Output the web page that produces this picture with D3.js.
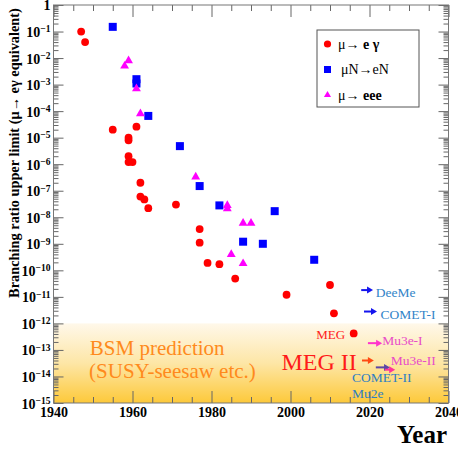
<!DOCTYPE html>
<html>
<head>
<meta charset="utf-8">
<script src="https://cdn.jsdelivr.net/npm/d3@7"></script>
<style>
  body { margin: 0; background: #fff; }
  text { font-family: "Liberation Serif", "DejaVu Serif", serif; }
</style>
</head>
<body>
<div id="chart"></div>
<script>
// mu -> e gamma limits
const megYears  = [1947, 1948, 1955, 1959, 1959, 1961, 1959, 1959, 1960, 1962, 1962, 1963, 1964, 1971, 1977, 1977, 1979, 1982, 1986, 1999, 2010, 2011, 2016];
const megLimits = [1e-1, 4e-2, 2e-5, 1e-5, 8e-6, 2.6e-5, 2e-6, 1.2e-6, 1.2e-6, 2e-7, 6e-8, 4.7e-8, 2.2e-8, 3e-8, 3.6e-9, 1.1e-9, 1.9e-10, 1.7e-10, 4.9e-11, 1.2e-11, 2.8e-11, 2.4e-12, 4.2e-13];

// mu N -> e N limits
const convYears  = [1955, 1961, 1961, 1964, 1972, 1977, 1982, 1988, 1993, 1996, 2006];
const convLimits = [1.5e-1, 1.6e-3, 1.1e-3, 6.6e-5, 4.8e-6, 1.5e-7, 2.8e-8, 1.2e-9, 1e-9, 1.7e-8, 2.5e-10];

// mu -> eee limits
const eeeYears  = [1958, 1959, 1961, 1962, 1976, 1984, 1984, 1985, 1988, 1990, 1988];
const eeeLimits = [5e-3, 8e-3, 7e-4, 8e-5, 3.3e-7, 2.8e-8, 2.1e-8, 4e-10, 6e-9, 6e-9, 1.8e-10];

// future experiments: arrow from/to year at an expected sensitivity
const arrowNames  = ['DeeMe', 'COMET-I', 'Mu3e-I', 'MEG II', 'COMET-II', 'Mu3e-II'];
const arrowFrom   = [2017.9, 2018.6, 2019.6, 2018.1, 2021.6, 2023.9];
const arrowTo     = [2020.9, 2021.9, 2023.2, 2021.1, 2025.2, 2026.5];
const arrowLimit  = [1.8e-11, 2.8e-12, 1.8e-13, 4e-14, 2.2e-14, 1.8e-14];
const arrowColors = ['#1414ee', '#1414ee', '#ff33cc', '#ff4a12', '#5b46a6', '#ff3399'];

const xTicks = [1940, 1960, 1980, 2000, 2020, 2040];

const W = 458, H = 453;
const margin = { top: 5, right: 9.5, bottom: 50, left: 53.5 };

const svg = d3.select('#chart').append('svg')
    .attr('width', W)
    .attr('height', H);

const x = d3.scaleLinear().domain([1940, 2040]).range([margin.left, W - margin.right]);
const y = d3.scaleLog().domain([1e-15, 1]).range([H - margin.bottom, margin.top]);

// BSM band gradient
const defs = svg.append('defs');
const grad = defs.append('linearGradient')
    .attr('id', 'band')
    .attr('x1', 0).attr('y1', 0).attr('x2', 0).attr('y2', 1);
grad.append('stop').attr('offset', '0%').attr('stop-color', '#fff8ea');
grad.append('stop').attr('offset', '50%').attr('stop-color', '#fde6a6');
grad.append('stop').attr('offset', '100%').attr('stop-color', '#fdc93a');

svg.append('rect')
    .attr('x', x(1940))
    .attr('y', y(1e-12))
    .attr('width', x(2040) - x(1940))
    .attr('height', y(1e-15) - y(1e-12))
    .attr('fill', 'url(#band)');

// tick values
const yMajor = d3.range(-15, 1).map(e => Math.pow(10, e));
const yMinor = [];
for (let e = -15; e < 0; e++) {
    for (let k = 2; k <= 9; k++) yMinor.push(k * Math.pow(10, e));
}
const xMinor = d3.range(1945, 2040, 5).filter(v => v % 20 !== 0);

const tickColor = '#666';
const xBottom = H - margin.bottom;
const xRight = W - margin.right;

function styleAxis(g) {
    g.select('.domain').remove();
    g.selectAll('line').attr('stroke', tickColor);
}

// x axis (bottom, labelled) and top
svg.append('g')
    .attr('transform', `translate(0,${xBottom})`)
    .call(d3.axisBottom(x).tickValues(xTicks).tickSizeInner(-12).tickSizeOuter(0).tickPadding(4).tickFormat(d3.format('d')))
    .call(styleAxis)
    .call(g => g.selectAll('text')
        .attr('fill', '#000')
        .style('font-size', '14px')
        .style('font-weight', 'bold'));
svg.append('g')
    .attr('transform', `translate(0,${xBottom})`)
    .call(d3.axisBottom(x).tickValues(xMinor).tickSizeInner(-6).tickSizeOuter(0).tickFormat(''))
    .call(styleAxis);
svg.append('g')
    .attr('transform', `translate(0,${margin.top})`)
    .call(d3.axisTop(x).tickValues(xTicks).tickSizeInner(-12).tickSizeOuter(0).tickFormat(''))
    .call(styleAxis);
svg.append('g')
    .attr('transform', `translate(0,${margin.top})`)
    .call(d3.axisTop(x).tickValues(xMinor).tickSizeInner(-6).tickSizeOuter(0).tickFormat(''))
    .call(styleAxis);

// y axis left (labelled) and right
const yLeft = svg.append('g')
    .attr('transform', `translate(${margin.left},0)`)
    .call(d3.axisLeft(y).tickValues(yMajor).tickSizeInner(-10).tickSizeOuter(0).tickPadding(3).tickFormat(d => Math.round(Math.log10(d))))
    .call(styleAxis);

yLeft.selectAll('text').each(function(d) {
    const t = d3.select(this);
    const e = Math.round(Math.log10(d));
    t.text(null)
        .attr('fill', '#000')
        .attr('dy', '0.36em')
        .style('font-size', '14px')
        .style('font-weight', 'bold');
    if (e === 0) {
        t.attr('dy', '0.34em').append('tspan').text('1');
    } else {
        t.append('tspan').text('10');
        t.append('tspan').attr('dy', '-0.5em').style('font-size', '9.5px').text('\u2212' + (-e));
    }
});

svg.append('g')
    .attr('transform', `translate(${margin.left},0)`)
    .call(d3.axisLeft(y).tickValues(yMinor).tickSizeInner(-5).tickSizeOuter(0).tickFormat(''))
    .call(styleAxis);
svg.append('g')
    .attr('transform', `translate(${xRight},0)`)
    .call(d3.axisRight(y).tickValues(yMajor).tickSizeInner(-10).tickSizeOuter(0).tickFormat(''))
    .call(styleAxis);
svg.append('g')
    .attr('transform', `translate(${xRight},0)`)
    .call(d3.axisRight(y).tickValues(yMinor).tickSizeInner(-5).tickSizeOuter(0).tickFormat(''))
    .call(styleAxis);

// frame
svg.append('rect')
    .attr('x', margin.left)
    .attr('y', margin.top)
    .attr('width', xRight - margin.left)
    .attr('height', xBottom - margin.top)
    .attr('fill', 'none')
    .attr('stroke', '#777')
    .attr('stroke-width', 1);

// axis titles
const yTitle = svg.append('text')
    .attr('transform', 'translate(19,153) rotate(-90)')
    .attr('text-anchor', 'middle')
    .style('font-size', '12.5px')
    .style('font-weight', 'bold')
    .text('Branching ratio upper limit (\u03bc\u2192 e\u03b3 equivalent)');
// stretch the title to the same length as in the original (~290px)
const titleLen = yTitle.node().getComputedTextLength();
yTitle.style('font-size', (12.5 * 290 / titleLen).toFixed(2) + 'px');

svg.append('text')
    .attr('x', 447)
    .attr('y', 443)
    .attr('text-anchor', 'end')
    .style('font-size', '25px')
    .style('font-weight', 'bold')
    .text('Year');

// BSM band text
const bsm = svg.append('text')
    .attr('fill', '#ff8a1c')
    .style('font-size', '21px');
bsm.append('tspan').attr('x', x(1949.2)).attr('y', y(10 ** -13.2)).text('BSM prediction');
bsm.append('tspan').attr('x', x(1949)).attr('y', y(10 ** -14.07)).text('(SUSY-seesaw etc.)');

// data points
const plot = svg.append('g');

plot.selectAll('.meg')
    .data(megYears.map((d, i) => [d, megLimits[i]]))
    .join('circle')
    .attr('class', 'meg')
    .attr('cx', d => x(d[0]))
    .attr('cy', d => y(d[1]))
    .attr('r', 3.9)
    .attr('fill', '#ff0000');

plot.selectAll('.conv')
    .data(convYears.map((d, i) => [d, convLimits[i]]))
    .join('rect')
    .attr('class', 'conv')
    .attr('x', d => x(d[0]) - 4)
    .attr('y', d => y(d[1]) - 4)
    .attr('width', 8)
    .attr('height', 8)
    .attr('fill', '#0000ff');

const tri = d3.symbol().type(d3.symbolTriangle).size(34);
plot.selectAll('.eee')
    .data(eeeYears.map((d, i) => [d, eeeLimits[i]]))
    .join('path')
    .attr('class', 'eee')
    .attr('transform', d => `translate(${x(d[0])},${y(d[1])})`)
    .attr('d', tri)
    .attr('fill', '#ff00ff');

// arrows for future experiments
arrowNames.forEach((name, i) => {
    const x0 = x(arrowFrom[i]), x1 = x(arrowTo[i]), yy = y(arrowLimit[i]);
    svg.append('line')
        .attr('x1', x0).attr('x2', x1 - 4)
        .attr('y1', yy).attr('y2', yy)
        .attr('stroke', arrowColors[i])
        .attr('stroke-width', 2);
    svg.append('path')
        .attr('d', `M${x1},${yy} L${x1 - 6},${yy - 3.5} L${x1 - 6},${yy + 3.5} Z`)
        .attr('fill', arrowColors[i]);
});

// experiment labels
function label(txt, yr, lim, color, size) {
    svg.append('text')
        .attr('x', x(yr))
        .attr('y', y(lim))
        .attr('fill', color)
        .style('font-size', size + 'px')
        .text(txt);
}
label('DeeMe', 2021.6, 10 ** -11.02, '#3384c8', 13.5);
label('COMET-I', 2022.8, 10 ** -11.85, '#3384c8', 13.5);
label('MEG', 2006.5, 10 ** -12.6, '#ff2020', 13);
label('Mu3e-I', 2023.2, 10 ** -12.8, '#e84cc8', 13.5);
label('MEG II', 1997.7, 10 ** -13.74, '#ff1a1a', 24);
label('Mu3e-II', 2025.4, 10 ** -13.56, '#e84cc8', 13.5);
label('COMET-II', 2015.6, 10 ** -14.19, '#2f7fc2', 13.5);
label('Mu2e', 2015.6, 10 ** -14.83, '#2f7fc2', 13.5);

// legend
const legend = svg.append('g').attr('transform', 'translate(317,30)');
legend.append('rect')
    .attr('width', 102)
    .attr('height', 77)
    .attr('fill', '#fff')
    .attr('stroke', '#555')
    .attr('stroke-width', 1);

legend.append('circle').attr('cx', 10.5).attr('cy', 14).attr('r', 3.6).attr('fill', '#ff0000');
legend.append('rect').attr('x', 7).attr('y', 36).attr('width', 7).attr('height', 7).attr('fill', '#0000ff');
legend.append('path').attr('transform', 'translate(10.5,65)').attr('d', d3.symbol().type(d3.symbolTriangle).size(22)).attr('fill', '#ff00ff');

const l1 = legend.append('text').attr('x', 21).attr('y', 18.5).style('font-size', '14px');
l1.append('tspan').text('\u03bc\u2192 ');
l1.append('tspan').style('font-weight', 'bold').text('e  \u03b3');

legend.append('text').attr('x', 24).attr('y', 43.5).style('font-size', '14px').text('\u03bcN\u2192eN');

const l3 = legend.append('text').attr('x', 21).attr('y', 69.5).style('font-size', '14px');
l3.append('tspan').text('\u03bc\u2192 ');
l3.append('tspan').style('font-weight', 'bold').text('eee');
</script>
</body>
</html>
